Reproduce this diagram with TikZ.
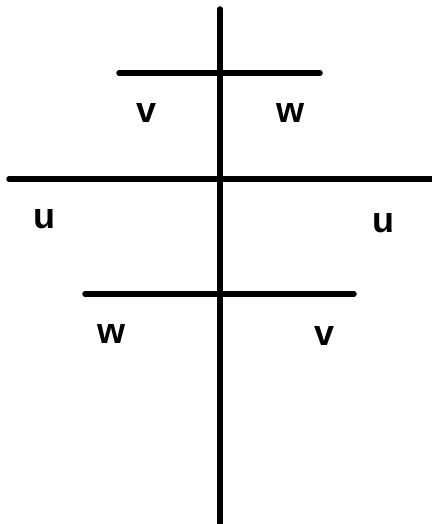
\documentclass[tikz,border=0pt]{standalone}
\usepackage{fontspec}
\setmainfont{Liberation Sans}
\begin{document}
\begin{tikzpicture}[x=1pt,y=-1pt,
  bar/.style={line width=5.5pt,line cap=round},
  lbl/.style={anchor=base,inner sep=0pt,font=\fontsize{36}{40}\selectfont\bfseries}]
\useasboundingbox (0,0) rectangle (431,524);
\coordinate (vt) at (220,9);
\coordinate (vb) at (220,530);
\coordinate (t1) at (119,73);
\coordinate (t2) at (320,73);
\coordinate (m1) at (9,179);
\coordinate (m2) at (440,179);
\coordinate (l1) at (85,294);
\coordinate (l2) at (354,294);
\draw[bar] (vt) -- (vb);
\draw[bar] (t1) -- (t2);
\draw[bar] (m1) -- (m2);
\draw[bar] (l1) -- (l2);
\node[lbl] (va) at (147,122) {v};
\node[lbl] (wa) at (290,122) {w};
\node[lbl] (ua) at (44,228) {u};
\node[lbl] (ub) at (383,232) {u};
\node[lbl] (wb) at (111.5,343) {w};
\node[lbl] (vb2) at (325,345) {v};
\end{tikzpicture}
\end{document}
